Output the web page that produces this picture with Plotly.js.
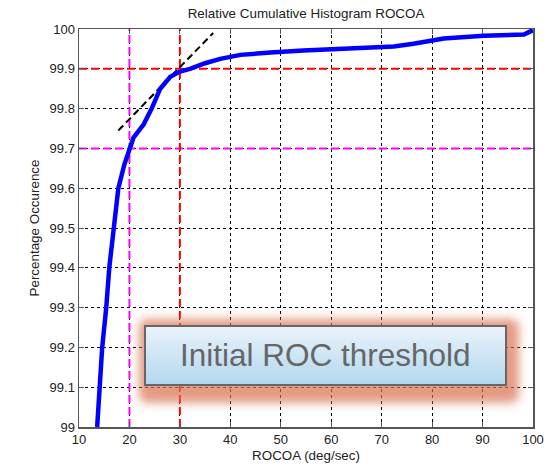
<!DOCTYPE html>
<html><head><meta charset="utf-8">
<script src="https://cdn.plot.ly/plotly-3.0.1.min.js"></script>
<style>html,body{margin:0;padding:0;background:#fff}#chart{width:555px;height:472px}</style>
</head><body><div id="chart"></div>
<script>
// Data
const rocoa = [13.6, 14.0, 14.6, 15.4, 16.0, 16.9, 17.8, 19.0, 20.1, 20.8, 22.8, 24.4, 26.1, 28.1, 30.0, 32.0, 35.0, 38.0, 42.0, 45.0, 48.0, 54.5, 63.1, 72.4, 76.3, 79.6, 82.3, 90.2, 98.2, 99.5, 100];
const pct   = [99.0, 99.1, 99.2, 99.3, 99.4, 99.5, 99.6, 99.66, 99.7, 99.727, 99.76, 99.8, 99.85, 99.88, 99.893, 99.9, 99.914, 99.925, 99.935, 99.939, 99.941, 99.946, 99.952, 99.956, 99.963, 99.971, 99.976, 99.983, 99.986, 99.994, 99.997];
const tangentX = [17.8, 36.6];
const tangentY = [99.745, 99.99];
const redThreshX = 30, redThreshY = 99.9;
const magThreshX = 20, magThreshY = 99.7;
const xTicks = [10,20,30,40,50,60,70,80,90,100];
const yTicks = [99,99.1,99.2,99.3,99.4,99.5,99.6,99.7,99.8,99.9,100];
const yTickText = ['99','99.1','99.2','99.3','99.4','99.5','99.6','99.7','99.8','99.9','100'];
const titleText = 'Relative Cumulative Histogram ROCOA';
const xTitle = 'ROCOA (deg/sec)';
const yTitle = 'Percentage Occurence';
const calloutText = 'Initial ROC threshold';

const xr = [10, 100], yr = [99, 100];
const traces = [
  {x:[magThreshX,magThreshX], y:yr, mode:'lines', line:{color:'#ff00ff', width:2, dash:'8px,4px'}, hoverinfo:'skip'},
  {x:xr, y:[magThreshY,magThreshY], mode:'lines', line:{color:'#ff00ff', width:2, dash:'8px,4px'}, hoverinfo:'skip'},
  {x:[redThreshX,redThreshX], y:yr, mode:'lines', line:{color:'#ff0000', width:2, dash:'8px,4px'}, hoverinfo:'skip'},
  {x:xr, y:[redThreshY,redThreshY], mode:'lines', line:{color:'#ff0000', width:2, dash:'8px,4px'}, hoverinfo:'skip'},
  {x:tangentX, y:tangentY, mode:'lines', line:{color:'#000', width:2, dash:'7px,4px'}, hoverinfo:'skip'},
  {x:rocoa, y:pct, mode:'lines', line:{color:'#0000ff', width:4.5}, hoverinfo:'skip'}
];

const svg = `<svg xmlns="http://www.w3.org/2000/svg" width="400" height="110" viewBox="0 0 400 110">
<defs>
<filter id="b" x="-20%" y="-40%" width="140%" height="180%"><feGaussianBlur stdDeviation="5"/></filter>
<linearGradient id="g" x1="0" y1="0" x2="0" y2="1"><stop offset="0" stop-color="#eaf4fb"/><stop offset="1" stop-color="#b2d6ee"/></linearGradient>
</defs>
<rect x="11" y="11" width="380" height="84" rx="8" fill="#d9704e" fill-opacity="0.7" filter="url(#b)"/>
<rect x="17" y="18" width="361" height="59" fill="url(#g)" stroke="#666" stroke-width="2"/>
</svg>`;
const img = 'data:image/svg+xml;charset=utf-8,' + encodeURIComponent(svg);

const L=79, R=533, T=29, B=427, W=R-L, H=B-T;
const px = v => (v-L)/W, py = v => (B-v)/H;
const FONT = 'Liberation Sans, Arial, sans-serif';

const axisCommon = {
  showline:true, linecolor:'#555', linewidth:1.5, mirror:'allticks',
  ticks:'inside', ticklen:5, tickcolor:'#555', tickwidth:1,
  showgrid:true, gridcolor:'#000', gridwidth:1, griddash:'3px,3px',
  zeroline:false, tickfont:{family:FONT, size:13, color:'#222'}
};

const layout = {
  width:555, height:472, showlegend:false,
  margin:{l:L, r:555-R, t:T, b:472-B, pad:0},
  paper_bgcolor:'#fff', plot_bgcolor:'#fff',
  title:{text:titleText, x:(L+R)/2/555, xanchor:'center', y:1-13/472, yanchor:'middle', yref:'container',
         font:{family:FONT, size:13.4, color:'#222'}},
  xaxis:Object.assign({}, axisCommon, {range:xr, tickvals:xTicks, ticktext:xTicks.map(String),
         title:{text:xTitle, standoff:4, font:{family:FONT, size:13.4, color:'#222'}}}),
  yaxis:Object.assign({}, axisCommon, {range:yr, tickvals:yTicks, ticktext:yTickText,
         title:{text:yTitle, standoff:7, font:{family:FONT, size:13.4, color:'#222'}}}),
  images:[{source:img, xref:'paper', yref:'paper', x:px(128), y:py(308), sizex:px(528)-px(128), sizey:py(308)-py(418),
           xanchor:'left', yanchor:'top', sizing:'stretch', layer:'above'}],
  annotations:[{text:calloutText, xref:'paper', yref:'paper', x:px(325), y:py(355), xanchor:'center', yanchor:'middle',
           showarrow:false, font:{family:FONT, size:31.5, color:'#666'}}]
};
Plotly.newPlot('chart', traces, layout, {staticPlot:true, displayModeBar:false});
</script></body></html>
